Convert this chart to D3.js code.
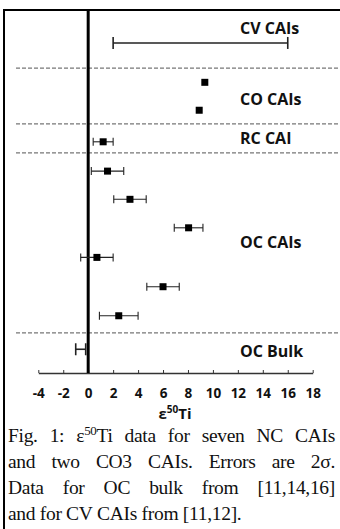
<!DOCTYPE html>
<html>
<head>
<meta charset="utf-8">
<script src="https://cdnjs.cloudflare.com/ajax/libs/d3/7.8.5/d3.min.js"></script>
<style>
  body { margin: 0; background: #fff; }
  svg { display: block; }
  .lbl { font-family: "Open Sans", sans-serif; font-weight: 700; fill: #111; }
  .cap { font-family: "Liberation Serif", "Times New Roman", serif; fill: #111; }
</style>
</head>
<body>
<div class="chart"></div>
<script>
// DATA ------------------------------
// epsilon 50Ti values, 2 sigma errors, row position (top = CV CAIs)
let eps  = [9.0, 9.35, 8.9, 1.2, 1.55, 3.35, 8.05, 0.7, 6.0, 2.45, -0.6];
let errs = [7.0, 0, 0, 0.8, 1.3, 1.3, 1.15, 1.3, 1.3, 1.55, 0.4];
let rows = [11.82, 10.41, 9.41, 8.28, 7.23, 6.22, 5.2, 4.14, 3.09, 2.05, 0.85];
let marker = [false, true, true, true, true, true, true, true, true, true, false];

let groups = ["CV CAIs", "CO CAIs", "RC CAI", "OC CAIs", "OC Bulk"];
let groupRows = [12.36, 9.81, 8.41, 4.7, 0.79];
let dividers = [10.92, 8.92, 7.88, 1.44];

let xTicks = [-4, -2, 0, 2, 4, 6, 8, 10, 12, 14, 16, 18];

let caption = [
  "Fig. 1: ε<sup>50</sup>Ti data for seven NC CAIs",
  "and two CO3 CAIs. Errors are 2σ.",
  "Data for OC bulk from [11,14,16]",
  "and for CV CAIs from [11,12]."
];

// CHART INIT ------------------------------
let W = 340, H = 529;
let frame = { left: 4, top: 10 };

let svg = d3.select(".chart").append("svg")
  .attr("width", W).attr("height", H);

svg.append("rect").attr("width", W).attr("height", H).attr("fill", "#fff");

let x = d3.scaleLinear().domain([-4, 18]).range([38.3, 312.7]);
let y = d3.scaleLinear().domain([0, 13]).range([373, frame.top]);

// frame (top + left)
svg.append("path")
  .attr("d", "M" + frame.left + "," + H + "V" + frame.top + "H" + W)
  .attr("fill", "none").attr("stroke", "#000").attr("stroke-width", 2);

// dashed group dividers
svg.selectAll(".div").data(dividers).enter().append("line")
  .attr("class", "div")
  .attr("x1", 16).attr("x2", W)
  .attr("y1", d => y(d)).attr("y2", d => y(d))
  .attr("stroke", "#777").attr("stroke-width", 1.2)
  .attr("stroke-dasharray", "4,2");

// x axis
let xAxis = d3.axisBottom(x)
  .tickValues(xTicks)
  .tickFormat(d => String(d))   // plain hyphen, like the original
  .tickSizeInner(-3).tickSizeOuter(0).tickPadding(15);
let gx = svg.append("g").attr("transform", "translate(0," + y(0) + ")").call(xAxis);
gx.attr("font-family", null).attr("font-size", null);
gx.select(".domain").attr("stroke", "#333").attr("stroke-width", 1.3);
gx.selectAll(".tick line").attr("stroke", "#333");
gx.selectAll(".tick text")
  .attr("class", "lbl")
  .attr("fill", "#222")
  .style("font-size", "13.5px");

// thick zero line
svg.append("line")
  .attr("x1", x(0)).attr("x2", x(0))
  .attr("y1", frame.top).attr("y2", y(0))
  .attr("stroke", "#000").attr("stroke-width", 3);

// axis title
let t = svg.append("text").attr("class", "lbl")
  .attr("x", 175).attr("y", 419)
  .attr("text-anchor", "middle")
  .style("font-size", "15px");
t.append("tspan").text("ε");
t.append("tspan").attr("dy", -6).style("font-size", "10px").text("50");
t.append("tspan").attr("dy", 6).text("Ti");

// error bars
let pts = eps.map((v, i) => ({ v: v, e: errs[i], r: rows[i], m: marker[i], big: !marker[i] }));
let eb = svg.selectAll(".eb").data(pts.filter(d => d.e > 0)).enter().append("g").attr("class", "eb");
eb.append("line")
  .attr("x1", d => x(d.v - d.e)).attr("x2", d => x(d.v + d.e))
  .attr("y1", d => y(d.r)).attr("y2", d => y(d.r))
  .attr("stroke", "#222").attr("stroke-width", d => d.big ? 1.6 : 1.1);
[-1, 1].forEach(s => {
  eb.append("line")
    .attr("x1", d => x(d.v + s * d.e)).attr("x2", d => x(d.v + s * d.e))
    .attr("y1", d => y(d.r) - (d.big ? 6 : 4)).attr("y2", d => y(d.r) + (d.big ? 6 : 4))
    .attr("stroke", "#222").attr("stroke-width", d => d.big ? 1.6 : 1.1);
});

// markers
svg.selectAll(".pt").data(pts.filter(d => d.m)).enter().append("rect")
  .attr("class", "pt")
  .attr("x", d => x(d.v) - 3.5).attr("y", d => y(d.r) - 3.5)
  .attr("width", 7).attr("height", 7)
  .attr("fill", "#000");

// group labels
svg.selectAll(".grp").data(groups).enter().append("text")
  .attr("class", "lbl grp")
  .attr("x", 240).attr("y", (d, i) => y(groupRows[i]))
  .attr("dy", "0.36em")
  .style("font-size", "16px")
  .text(d => d);

// caption, justified like the paper
let capX0 = 8, capX1 = 335, capY = [442, 468, 494, 520];
caption.forEach((line, i) => {
  let words = line.split(" ");
  let g = svg.append("text").attr("class", "cap").attr("y", capY[i])
    .style("font-size", "19.5px").style("letter-spacing", "-0.3px");
  let spans = words.map(w => {
    let s = g.append("tspan");
    if (w.includes("<sup>")) {
      let parts = w.split(/<sup>|<\/sup>/);
      s.append("tspan").text(parts[0]);
      s.append("tspan").attr("dy", -7).style("font-size", "13px").text(parts[1]);
      s.append("tspan").attr("dy", 7).text(parts[2]);
    } else {
      s.text(w);
    }
    return s;
  });
  let widths = spans.map(s => s.node().getComputedTextLength());
  let total = d3.sum(widths);
  let gap = i < caption.length - 1 ? (capX1 - capX0 - total) / (words.length - 1) : 4.5;
  let cx = capX0;
  spans.forEach((s, k) => {
    s.attr("x", cx);
    cx += widths[k] + gap;
  });
});
</script>
</body>
</html>
